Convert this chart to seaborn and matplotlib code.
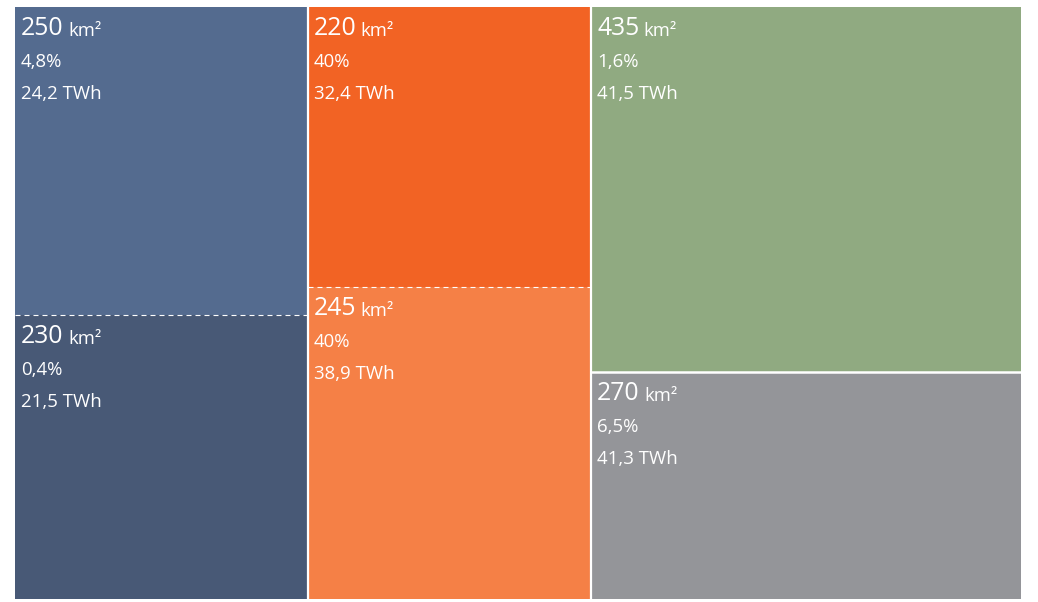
import numpy as np
import seaborn as sns
import matplotlib.pyplot as plt

# treemap blocks, column by column (top, bottom)
areas = [250, 230, 220, 245, 435, 270]
columns = [0, 0, 1, 1, 2, 2]
shares = ["4,8%", "0,4%", "40%", "40%", "1,6%", "6,5%"]
energy = ["24,2 TWh", "21,5 TWh", "32,4 TWh", "38,9 TWh", "41,5 TWh", "41,3 TWh"]
colors = ["#546b8f", "#485976", "#f26324", "#f58046", "#90aa81", "#949599"]
divider_styles = ["dashed", "dashed", "solid"]

sns.set_theme(style="white")
plt.rcParams["font.family"] = ["Open Sans", "DejaVu Sans"]

fig = plt.figure(figsize=(10.38, 6.02), dpi=100)
ax = fig.add_axes([15 / 1038, 3 / 602, 1006 / 1038, 592 / 602])

areas = np.array(areas)
columns = np.array(columns)
col_ids = np.unique(columns)
col_sums = np.array([areas[columns == c].sum() for c in col_ids])
col_left = np.concatenate([[0], np.cumsum(col_sums)[:-1]])
total = col_sums.sum()

txt = dict(textcoords="offset points", ha="left", color="white")

for c in col_ids:
    idx = np.where(columns == c)[0]
    fracs = areas[idx] / col_sums[c]
    tops = np.concatenate([[0], np.cumsum(fracs)[:-1]])
    for i, top, h in zip(idx, tops, fracs):
        ax.bar(col_left[c], h, width=col_sums[c], bottom=top, align="edge",
               color=colors[i], linewidth=0)
        num = ax.annotate(str(areas[i]), xy=(col_left[c], top), xytext=(4.3, -20.2),
                          va="baseline", fontsize=17.8, **txt)
        ax.annotate("km²", xy=(1, 0), xycoords=num, xytext=(3.2, 0.9),
                    va="bottom", fontsize=13.2, **txt)
        ax.annotate(shares[i], xy=(col_left[c], top), xytext=(4.3, -43.2),
                    va="baseline", fontsize=13.4, **txt)
        ax.annotate(energy[i], xy=(col_left[c], top), xytext=(4.3, -66.2),
                    va="baseline", fontsize=13.4, **txt)
    # divider between the two blocks of a column
    y_div = fracs[0]
    if divider_styles[c] == "dashed":
        ax.hlines(y_div, col_left[c], col_left[c] + col_sums[c], color="white",
                  linewidth=0.8, linestyles=(0, (4.5, 3.6)))
    else:
        ax.hlines(y_div, col_left[c], col_left[c] + col_sums[c], color="white",
                  linewidth=1.8)

for x in col_left[1:]:
    ax.axvline(x, color="white", linewidth=1.6)

ax.set_xlim(0, total)
ax.set_ylim(1, 0)
ax.axis("off")

fig.savefig("out.png", dpi=100)
